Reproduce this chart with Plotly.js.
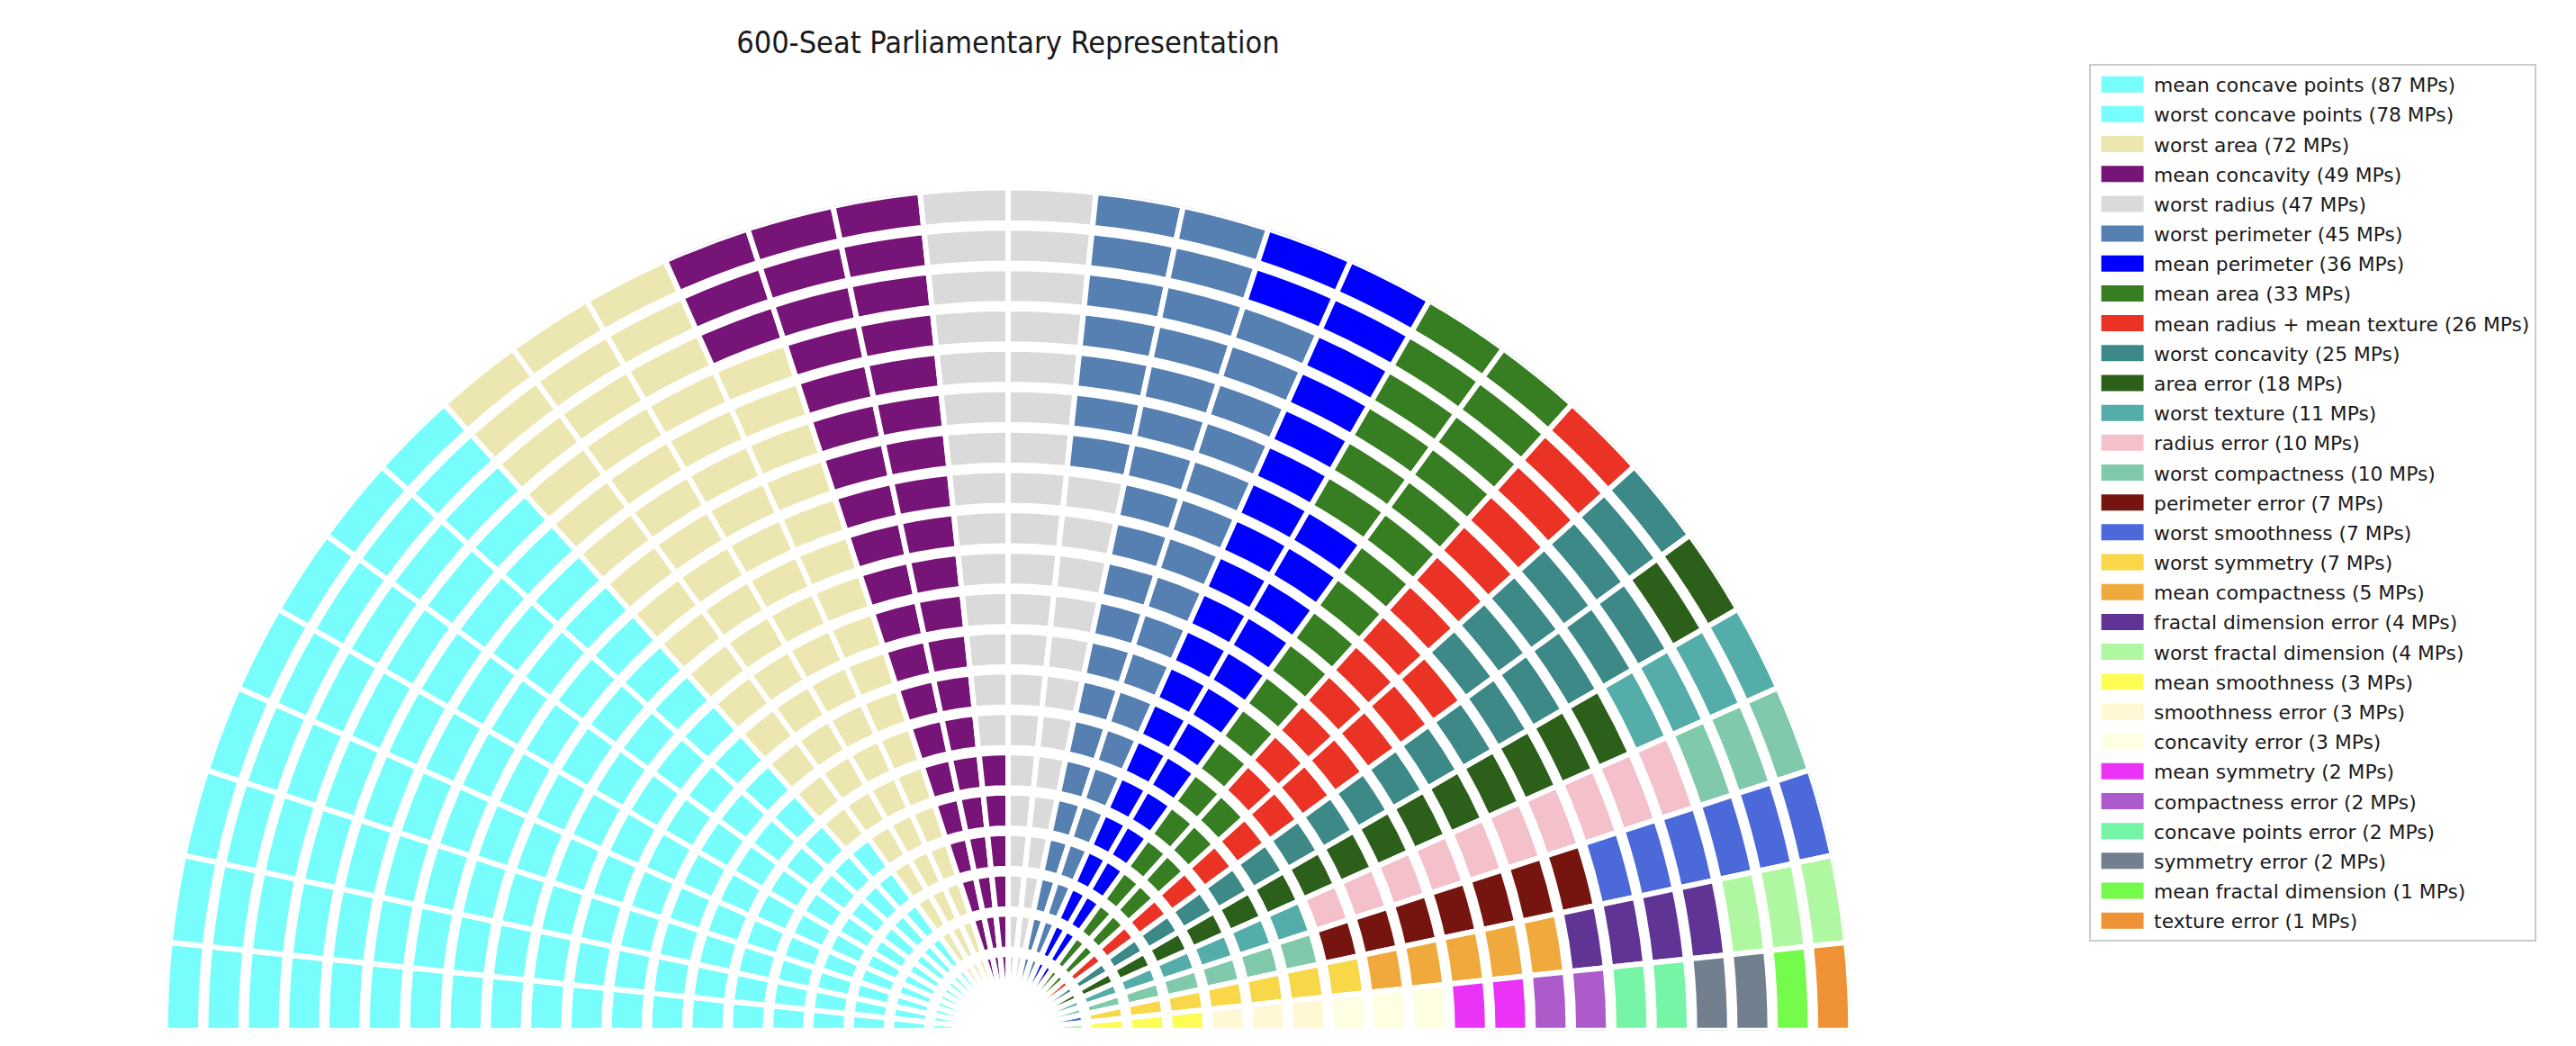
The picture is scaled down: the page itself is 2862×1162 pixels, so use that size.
<!DOCTYPE html>
<html>
<head>
<meta charset="utf-8">
<script src="https://cdn.plot.ly/plotly-3.0.1.min.js"></script>
<style>
  html, body { margin: 0; padding: 0; background: #ffffff; }
  #chart { width: 2862px; height: 1162px; }
</style>
</head>
<body>
<div id="chart"></div>
<script>
// Parties in seating order, from the left end of the hemicycle to the right
const partyNames = [
    'mean concave points', 'worst concave points', 'worst area', 'mean concavity',
    'worst radius', 'worst perimeter', 'mean perimeter', 'mean area',
    'mean radius + mean texture', 'worst concavity', 'area error', 'worst texture',
    'radius error', 'worst compactness', 'perimeter error', 'worst smoothness',
    'worst symmetry', 'mean compactness', 'fractal dimension error', 'worst fractal dimension',
    'mean smoothness', 'smoothness error', 'concavity error', 'mean symmetry',
    'compactness error', 'concave points error', 'symmetry error', 'mean fractal dimension',
    'texture error'
];

const partySeats = [87, 78, 72, 49, 47, 45, 36, 33, 26, 25, 18, 11, 10, 10, 7, 7, 7, 5, 4, 4, 3, 3, 3, 2, 2, 2, 2, 1, 1];

const partyColors = [
    '#78fdfd', '#78fdfd', '#ece6b1', '#771477',
    '#dadada', '#5580b1', '#0000ff', '#377d22',
    '#ea3324', '#3c8987', '#2b5f1a', '#55ada9',
    '#f4c1cb', '#80c9aa', '#761510', '#4b69d9',
    '#f8d748', '#f0a93c', '#603494', '#aff7a1',
    '#fdfd55', '#fef8d4', '#fefee3', '#ea33f6',
    '#ad5bcb', '#75f5a5', '#727f8f', '#75fb4b',
    '#ef9236'
];

// Hemicycle: 20 rows of 30 seats, filled column by column (inner row first)
const rowCount = 20;
const seatsPerRow = 30;
const innerRadius = 45.5;
const rowPitch = 44.82;
const rowDepth = 39.2;
const outerRadius = 936.25;

function seatPosition(index) {
    const col = Math.floor(index / rowCount);
    const row = index % rowCount;
    const step = 180 / seatsPerRow;
    return { theta: 180 - step * (col + 0.5), base: innerRadius + row * rowPitch };
}

let seatIndex = 0;
const traces = partyNames.map((name, p) => {
    const theta = [], base = [], r = [];
    for (let k = 0; k < partySeats[p]; k++) {
        const pos = seatPosition(seatIndex++);
        theta.push(pos.theta);
        base.push(pos.base);
        r.push(rowDepth);
    }
    return {
        type: 'barpolar',
        name: `${name} (${partySeats[p]} MPs)`,
        theta: theta,
        base: base,
        r: r,
        width: theta.map(() => 180 / seatsPerRow),
        marker: { color: partyColors[p], line: { color: '#ffffff', width: 6 } },
        legendgroup: 'party' + p,
        hoverinfo: 'name'
    };
});

const layout = {
    width: 2862,
    height: 1162,
    margin: { l: 0, r: 0, t: 0, b: 0 },
    paper_bgcolor: '#ffffff',
    font: { family: 'DejaVu Sans', color: '#1a1a1a' },
    title: {
        text: '600-Seat Parliamentary Representation',
        x: 0.3913, xanchor: 'center',
        y: 0.9596, yanchor: 'middle',
        font: { family: 'DejaVu Sans Condensed, DejaVu Sans', size: 34, color: '#1a1a1a' }
    },
    polar: {
        domain: { x: [0.064204, 0.718466], y: [0.014372, 0.820955] },
        sector: [0, 180],
        bgcolor: '#ffffff',
        barmode: 'overlay',
        radialaxis: { range: [0, outerRadius], visible: false, showgrid: false },
        angularaxis: { visible: false, showgrid: false, direction: 'counterclockwise', rotation: 0 }
    },
    showlegend: true,
    legend: {
        x: 0.811, y: 0.9389, xanchor: 'left', yanchor: 'top',
        bgcolor: '#ffffff', bordercolor: '#cccccc', borderwidth: 2,
        font: { family: 'DejaVu Sans', size: 21.8, color: '#1a1a1a' },
        tracegroupgap: 1.84,
        itemwidth: 60
    }
};

// widen the legend swatches to the flat rectangles of the original
function widenLegendSwatches(gd) {
    gd.querySelectorAll('.legendpoints path').forEach(path => {
        path.setAttribute('d', 'M23.5,9H-23.5V-9H23.5Z');
        path.style.strokeWidth = '0';
    });
}

Plotly.newPlot('chart', traces, layout, { displayModeBar: false }).then(widenLegendSwatches);
</script>
</body>
</html>
